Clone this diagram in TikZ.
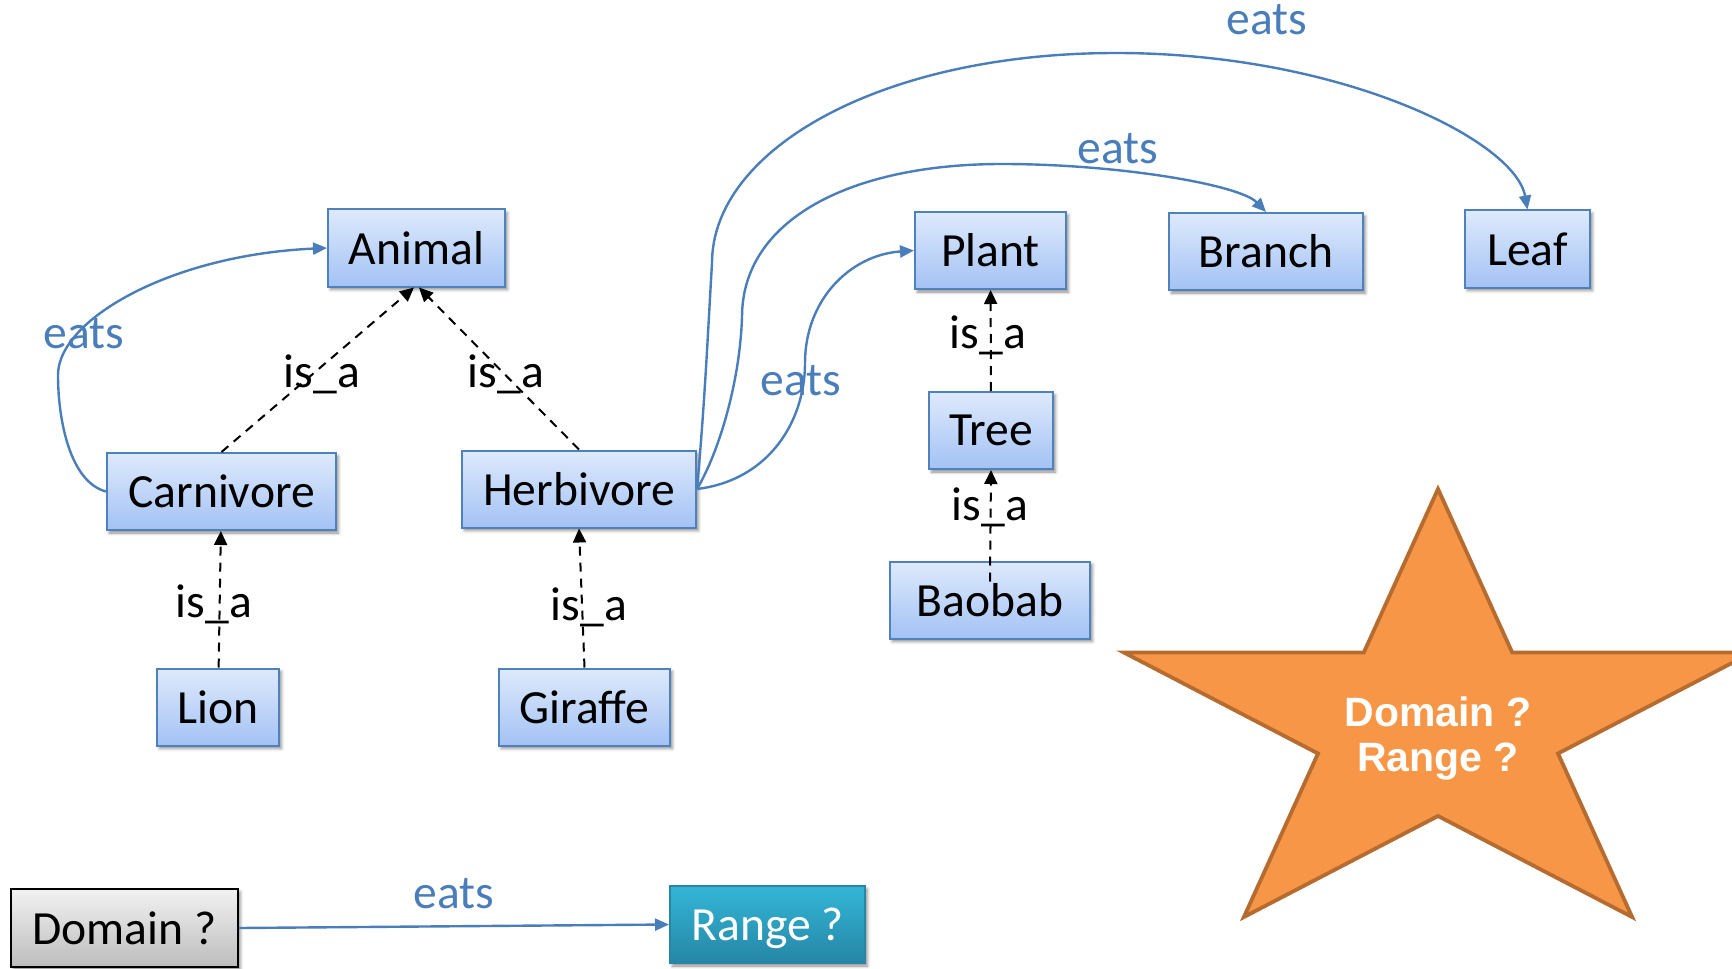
\documentclass[tikz,border=0pt]{standalone}
\usepackage{fontspec}
\setmainfont{Carlito}
\newfontfamily\starfont{Liberation Sans}
\usetikzlibrary{arrows.meta,shadows.blur}

\definecolor{boxtop}{RGB}{222,234,252}
\definecolor{boxbot}{RGB}{163,194,244}
\definecolor{boxline}{RGB}{79,129,189}
\definecolor{eatblue}{RGB}{74,126,187}
\definecolor{starfill}{RGB}{247,150,70}
\definecolor{starline}{RGB}{182,108,48}
\definecolor{domtop}{RGB}{242,242,242}
\definecolor{dombot}{RGB}{188,188,188}
\definecolor{rngtop}{RGB}{52,182,214}
\definecolor{rngbot}{RGB}{37,134,166}

\tikzset{
  boxshadow/.style={blur shadow={shadow xshift=1.2pt, shadow yshift=-1.5pt,
      shadow blur radius=1.5pt, shadow opacity=45}},
  concept/.style={draw=boxline, line width=1pt, top color=boxtop, bottom color=boxbot,
      inner sep=0pt, minimum height=38.5pt, boxshadow,
      font=\fontsize{23.8}{28}\selectfont},
  domainbox/.style={concept, draw=black, top color=domtop, bottom color=dombot},
  rangebox/.style={concept, draw=rngbot, top color=rngtop, bottom color=rngbot,
      text=white, text depth=0pt},
  isa/.style={draw=black, line width=1pt, dash pattern=on 4.5pt off 3.5pt,
      -{Triangle[length=7pt,width=6.5pt]}},
  eatsarrow/.style={draw=eatblue, line width=1.2pt, -{Triangle[length=7pt,width=6pt]}},
  isalabel/.style={anchor=base, inner sep=0pt, font=\fontsize{23.8}{28}\selectfont},
  eatslabel/.style={anchor=base, inner sep=0pt, text=eatblue, font=\fontsize{23.8}{28}\selectfont},
  startext/.style={align=center, text=white, inner sep=0pt,
      font=\starfont\bfseries\fontsize{20.5}{22.5}\selectfont},
}

\begin{document}
\begin{tikzpicture}[x=0.5pt, y=-0.5pt]
  \useasboundingbox (0,0) rectangle (1732,968);

  % star with the open question
  \draw[fill=starfill, draw=starline, line width=1.9pt]
    (1438,489) -- (1512.2,652.5) -- (1752.1,652.5) -- (1558,753.5) -- (1632.1,917)
    -- (1438,816) -- (1243.9,917) -- (1318,753.5) -- (1123.9,652.5) -- (1363.8,652.5)
    -- cycle;
  \node[startext] (question) at (1438,738) {Domain ?\\Range ?};

  % concepts
  \node[concept, minimum width=88.5pt]  (animal)  at (416.5,248)   {Animal};
  \node[concept, minimum width=114.5pt] (carn)    at (221.5,491.5) {Carnivore};
  \node[concept, minimum width=117pt]   (herb)    at (579,489)     {Herbivore};
  \node[concept, minimum width=61pt]    (lion)    at (218,707)     {Lion};
  \node[concept, minimum width=85.5pt]  (giraffe) at (584.5,707)   {Giraffe};
  \node[concept, minimum width=75.5pt]  (plant)   at (990.5,250.5) {Plant};
  \node[concept, minimum width=62pt]    (tree)    at (991,430.5)   {Tree};
  \node[concept, minimum width=100pt]   (baobab)  at (990,600)     {Baobab};
  \node[concept, minimum width=97pt]    (branch)  at (1266,251.5)  {Branch};
  \node[concept, minimum width=62.5pt]  (leaf)    at (1527.5,249)  {Leaf};

  \node[domainbox, minimum width=113.5pt, minimum height=39pt] (dom) at (124.5,928) {Domain ?};
  \node[rangebox, minimum width=97.5pt] (rng) at (767.5,924.5) {Range ?};

  % is_a hierarchy
  \draw[isa] (carn.north) -- ([xshift=-1.25pt]animal.south);
  \draw[isa] (herb.north) -- ([xshift=1.25pt]animal.south);
  \draw[isa] (lion) -- (carn);
  \draw[isa] (giraffe.north) -- (herb.south);
  \draw[isa] (tree) -- (plant);
  \coordinate (baobabtop) at ([yshift=-10.5pt]baobab.north);
  \draw[isa] (baobabtop) -- (tree.south);

  \node[isalabel] (l1) at (322,387) {is\_a};
  \node[isalabel] (l2) at (506,387) {is\_a};
  \node[isalabel] (l3) at (214,617) {is\_a};
  \node[isalabel] (l4) at (589,620) {is\_a};
  \node[isalabel] (l5) at (988,348) {is\_a};
  \node[isalabel] (l6) at (990,520) {is\_a};

  % eats relations
  \draw[eatsarrow] (carn.west) .. controls (70,482) and (58,420) .. (58,375)
    .. controls (58,320) and (170,255) .. (animal.west);
  \draw[eatsarrow] (herb.east) .. controls (770,480) and (805,420) .. (805,363)
    .. controls (805,300) and (850,255) .. (plant.west);
  \draw[eatsarrow] (herb.east) .. controls (720,450) and (740,380) .. (742,317)
    .. controls (742,220) and (850,164) .. (1002,164)
    .. controls (1120,164) and (1240,185) .. (branch.north);
  \draw[eatsarrow] (herb.east) .. controls (705,400) and (708,330) .. (712,263)
    .. controls (712,150) and (880,53) .. (1116,53)
    .. controls (1340,53) and (1515,140) .. (leaf.north);
  \draw[eatsarrow] (dom.east) -- (rng.west);

  \node[eatslabel] (e1) at (84,348)   {eats};
  \node[eatslabel] (e2) at (801,395)  {eats};
  \node[eatslabel] (e3) at (1118,164) {eats};
  \node[eatslabel] (e4) at (1267,35)  {eats};
  \node[eatslabel] (e5) at (454,908)  {eats};
\end{tikzpicture}
\end{document}
